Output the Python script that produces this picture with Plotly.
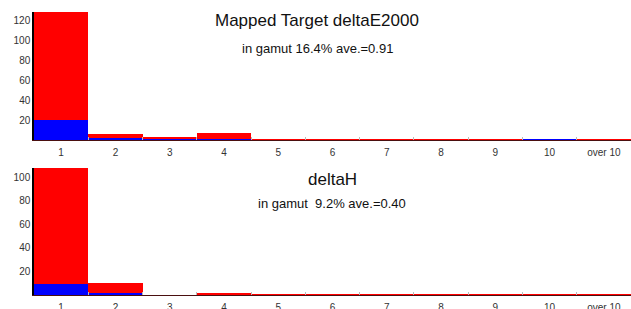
import plotly.graph_objects as go

categories = ["1", "2", "3", "4", "5", "6", "7", "8", "9", "10", "over 10"]

# Top chart: Mapped Target deltaE2000
de_total = [128, 6, 3, 7, 0.4, 0.4, 0.4, 0.4, 0.4, 1, 0.4]
de_in_gamut = [20, 2, 1, 1, 0, 0, 0, 0, 0, 1, 0]
de_title = "Mapped Target deltaE2000"
de_sub = "in gamut 16.4% ave.=0.91"

# Bottom chart: deltaH
dh_total = [108, 10, 0, 1, 0.3, 0.3, 0.3, 0.3, 0.3, 0.3, 0.3]
dh_in_gamut = [9, 1, 0, 0, 0, 0, 0, 0, 0, 0, 0]
dh_title = "deltaH"
dh_sub = "in gamut  9.2% ave.=0.40"

W, H = 631, 309
FONT = "Liberation Sans, Arial, sans-serif"

fig = go.Figure()
fig.add_trace(go.Bar(x=categories, y=de_total, marker=dict(color="#ff0000", line=dict(width=0)),
                     xaxis="x", yaxis="y", showlegend=False))
fig.add_trace(go.Bar(x=categories, y=de_in_gamut, marker=dict(color="#0000ff", line=dict(width=0)),
                     xaxis="x", yaxis="y", showlegend=False))
fig.add_trace(go.Bar(x=categories, y=dh_total, marker=dict(color="#ff0000", line=dict(width=0)),
                     xaxis="x2", yaxis="y2", showlegend=False))
fig.add_trace(go.Bar(x=categories, y=dh_in_gamut, marker=dict(color="#0000ff", line=dict(width=0)),
                     xaxis="x2", yaxis="y2", showlegend=False))

x0 = 34 / W
top_dom = [(H - 140) / H, (H - 12) / H]
bot_dom = [(H - 295) / H, (H - 168) / H]

xcommon = dict(type="category", domain=[x0, 1], showline=True, linecolor="#4a1010", linewidth=1,
               ticks="inside", ticklen=3, tickcolor="#bbbbbb", tickson="boundaries",
               showgrid=False, zeroline=False, tickfont=dict(size=10, color="#333333", family=FONT),
               ticklabelstandoff=3, automargin=False, fixedrange=True)
ycommon = dict(showline=True, linecolor="#000000", linewidth=1.5, ticks="", showgrid=False,
               zeroline=False, tickfont=dict(size=10, color="#333333", family=FONT),
               automargin=False, ticklen=0)

fig.update_layout(
    width=W, height=H,
    margin=dict(l=0, r=0, t=0, b=0),
    paper_bgcolor="white", plot_bgcolor="white",
    barmode="overlay", bargap=0,
    xaxis=dict(**xcommon, anchor="y"),
    yaxis=dict(**ycommon, domain=top_dom, range=[0, max(de_total)], tickvals=[20, 40, 60, 80, 100, 120], anchor="x"),
    xaxis2=dict(**xcommon, anchor="y2"),
    yaxis2=dict(**ycommon, domain=bot_dom, range=[0, max(dh_total)], tickvals=[20, 40, 60, 80, 100], anchor="x2"),
    annotations=[
        dict(text=de_title, x=317 / W, y=(H - 20) / H, xref="paper", yref="paper", showarrow=False,
             font=dict(size=17, color="#111111", family=FONT), xanchor="center", yanchor="middle"),
        dict(text=de_sub, x=317 / W, y=(H - 48) / H, xref="paper", yref="paper", showarrow=False,
             font=dict(size=13, color="#111111", family=FONT), xanchor="center", yanchor="middle"),
        dict(text=dh_title, x=332 / W, y=(H - 179) / H, xref="paper", yref="paper", showarrow=False,
             font=dict(size=17, color="#111111", family=FONT), xanchor="center", yanchor="middle"),
        dict(text=dh_sub, x=332 / W, y=(H - 203) / H, xref="paper", yref="paper", showarrow=False,
             font=dict(size=13, color="#111111", family=FONT), xanchor="center", yanchor="middle"),
    ],
)

fig.write_html("out.html", config={"displayModeBar": False},
               post_script="document.body.style.margin='0';document.body.style.overflow='hidden';")
